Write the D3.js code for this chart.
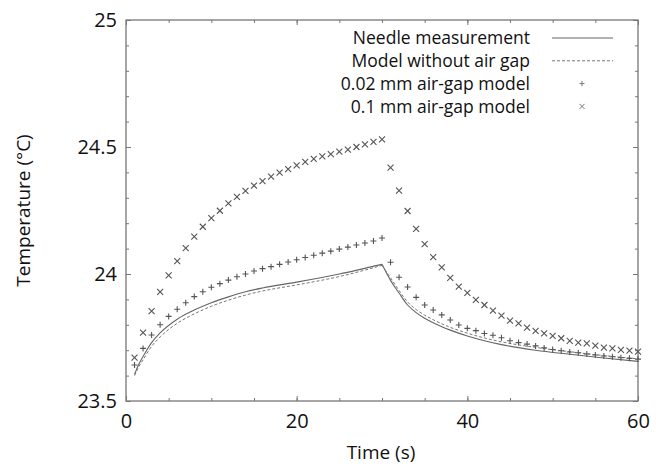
<!DOCTYPE html>
<html lang="en">
<head>
<meta charset="utf-8">
<title>Needle temperature</title>
<script src="https://d3js.org/d3.v7.min.js"></script>
<style>
  body { margin: 0; background: #fff; }
  svg text { font-family: "Open Sans", "Noto Sans", sans-serif; fill: #111; }
  .frame { fill: none; stroke: #777; stroke-width: 1.3px; }
  .tick line { stroke: #777; }
</style>
</head>
<body>
<svg id="chart" width="656" height="468"></svg>
<script>
// --- data ---
const needleT = [1, 1.5, 2, 3, 4, 6, 8, 10, 12, 14, 16, 20, 25, 30, 31, 32, 33, 34, 35, 36, 38, 40, 44, 48, 52, 56, 60];
const needleV = [23.605, 23.645, 23.675, 23.73, 23.768, 23.822, 23.858, 23.887, 23.91, 23.93, 23.945, 23.968, 24.0, 24.038,
                 23.975, 23.925, 23.878, 23.848, 23.826, 23.808, 23.779, 23.756, 23.722, 23.70, 23.684, 23.669, 23.656];

const modelT = needleT;
const modelV = [23.60, 23.635, 23.662, 23.715, 23.752, 23.806, 23.843, 23.873, 23.897, 23.917, 23.933, 23.957, 23.99, 24.034,
                23.985, 23.935, 23.89, 23.86, 23.838, 23.82, 23.79, 23.767, 23.733, 23.711, 23.694, 23.679, 23.666];

const gapTimes = d3.range(1, 61);
const gap002 = [23.642, 23.707, 23.76, 23.80, 23.833, 23.861, 23.887, 23.911, 23.93, 23.948,
  23.962, 23.976, 23.989, 24.0, 24.012, 24.021, 24.029, 24.038, 24.047, 24.056,
  24.065, 24.074, 24.082, 24.09, 24.098, 24.106, 24.114, 24.122, 24.13, 24.142,
  24.046, 23.987, 23.949, 23.908, 23.878, 23.858, 23.839, 23.819, 23.799, 23.786,
  23.777, 23.766, 23.759, 23.749, 23.737, 23.73, 23.724, 23.717, 23.709, 23.703,
  23.698, 23.693, 23.69, 23.685, 23.681, 23.677, 23.674, 23.67, 23.668, 23.665];
const gap01 = [23.671, 23.769, 23.854, 23.93, 23.995, 24.051, 24.102, 24.147, 24.186, 24.22,
  24.249, 24.278, 24.304, 24.327, 24.348, 24.366, 24.383, 24.399, 24.413, 24.428,
  24.441, 24.453, 24.463, 24.472, 24.482, 24.49, 24.50, 24.51, 24.52, 24.53,
  24.419, 24.328, 24.248, 24.178, 24.118, 24.066, 24.026, 23.985, 23.95, 23.926,
  23.898, 23.878, 23.856, 23.836, 23.816, 23.806, 23.789, 23.776, 23.766, 23.756,
  23.747, 23.737, 23.73, 23.727, 23.718, 23.71, 23.707, 23.701, 23.698, 23.694];

const legendLabels = ["Needle measurement", "Model without air gap", "0.02 mm air-gap model", "0.1 mm air-gap model"];
const xTicks = [0, 20, 40, 60];
const yTicks = [23.5, 24, 24.5, 25];

// --- layout ---
const margin = {top: 20, right: 18, bottom: 67, left: 126};
const width = 656 - margin.left - margin.right,
      height = 468 - margin.top - margin.bottom;

const svg = d3.select("#chart");
const chart = svg.append("g")
    .attr("transform", "translate(" + margin.left + "," + margin.top + ")");

const x = d3.scaleLinear().domain([0, 60]).range([0, width]);
const y = d3.scaleLinear().domain([23.5, 25]).range([height, 0]);

// minor + major ticks on all four sides, pointing inward
function addTicks(axisFn, scale, vals, size, transform) {
    chart.append("g")
        .attr("transform", transform)
        .call(axisFn(scale).tickValues(vals).tickSize(size).tickFormat(""))
        .call(g => g.select(".domain").remove());
}
const xMinor = d3.range(0, 61, 5), yMinor = d3.range(23.5, 25.001, 0.1);
addTicks(d3.axisTop, x, xMinor, 3, "translate(0," + height + ")");
addTicks(d3.axisTop, x, xTicks, 5, "translate(0," + height + ")");
addTicks(d3.axisBottom, x, xMinor, 3, "translate(0,0)");
addTicks(d3.axisBottom, x, xTicks, 5, "translate(0,0)");
addTicks(d3.axisRight, y, yMinor, 3, "translate(0,0)");
addTicks(d3.axisRight, y, yTicks, 5, "translate(0,0)");
addTicks(d3.axisLeft, y, yMinor, 3, "translate(" + width + ",0)");
addTicks(d3.axisLeft, y, yTicks, 5, "translate(" + width + ",0)");

// tick labels
chart.append("g")
    .attr("transform", "translate(0," + height + ")")
    .call(d3.axisBottom(x).tickValues(xTicks).tickSize(0).tickPadding(13).tickFormat(d3.format("d")))
    .call(g => g.select(".domain").remove())
    .selectAll("text").style("font-size", "20px");
chart.append("g")
    .call(d3.axisLeft(y).tickValues(yTicks).tickSize(0).tickPadding(9).tickFormat(d => d % 1 ? d3.format(".1f")(d) : d3.format("d")(d)))
    .call(g => g.select(".domain").remove())
    .selectAll("text").style("font-size", "20px");

chart.append("rect").attr("class", "frame").attr("width", width).attr("height", height);

// axis titles
svg.append("text")
    .attr("x", margin.left + width / 2 - 1).attr("y", 459)
    .attr("text-anchor", "middle").style("font-size", "19px")
    .text("Time (s)");
svg.append("text")
    .attr("transform", "translate(30," + (margin.top + height / 2) + ") rotate(-90)")
    .attr("text-anchor", "middle").style("font-size", "19px")
    .text("Temperature (°C)");

// curves
const line = d3.line().x(d => x(d[0])).y(d => y(d[1])).curve(d3.curveMonotoneX);
const needle = needleT.map((t, i) => [t, needleV[i]]);
const model = modelT.map((t, i) => [t, modelV[i]]);
const peak = needleT.indexOf(30);
chart.append("path").datum(needle.slice(0, peak + 1)).attr("d", line)
    .attr("fill", "none").attr("stroke", "#666").attr("stroke-width", 1.1);
chart.append("path").datum(needle.slice(peak)).attr("d", line)
    .attr("fill", "none").attr("stroke", "#666").attr("stroke-width", 1.1);
chart.append("path").datum(model.slice(0, peak + 1)).attr("d", line)
    .attr("fill", "none").attr("stroke", "#777").attr("stroke-width", 1).attr("stroke-dasharray", "3,2");
chart.append("path").datum(model.slice(peak)).attr("d", line)
    .attr("fill", "none").attr("stroke", "#777").attr("stroke-width", 1).attr("stroke-dasharray", "3,2");

// markers
const plusPath = r => "M" + (-r) + ",0H" + r + "M0," + (-r) + "V" + r;
const crossPath = r => "M" + (-r) + "," + (-r) + "L" + r + "," + r + "M" + (-r) + "," + r + "L" + r + "," + (-r);

chart.append("g").selectAll("path")
    .data(gapTimes.map((t, i) => [t, gap002[i]]))
    .join("path")
    .attr("transform", d => "translate(" + x(d[0]) + "," + y(d[1]) + ")")
    .attr("d", plusPath(3)).attr("stroke", "#555").attr("stroke-width", 1.1).attr("fill", "none");
chart.append("g").selectAll("path")
    .data(gapTimes.map((t, i) => [t, gap01[i]]))
    .join("path")
    .attr("transform", d => "translate(" + x(d[0]) + "," + y(d[1]) + ")")
    .attr("d", crossPath(3)).attr("stroke", "#555").attr("stroke-width", 1.1).attr("fill", "none");

// legend
const legend = svg.append("g");
legendLabels.forEach((lab, i) => {
    const ly = 38 + i * 22.8;
    legend.append("text").attr("x", 530).attr("y", ly).attr("dy", "0.35em")
        .attr("text-anchor", "end").style("font-size", "17.5px").text(lab);
    if (i === 0) {
        legend.append("line").attr("x1", 552).attr("x2", 613).attr("y1", ly).attr("y2", ly)
            .attr("stroke", "#666").attr("stroke-width", 1.1);
    } else if (i === 1) {
        legend.append("line").attr("x1", 552).attr("x2", 613).attr("y1", ly).attr("y2", ly)
            .attr("stroke", "#777").attr("stroke-dasharray", "3,2");
    } else {
        legend.append("path").attr("transform", "translate(582," + ly + ")")
            .attr("d", i === 2 ? plusPath(2.5) : crossPath(2.5))
            .attr("stroke", "#777").attr("fill", "none");
    }
});
</script>
</body>
</html>
